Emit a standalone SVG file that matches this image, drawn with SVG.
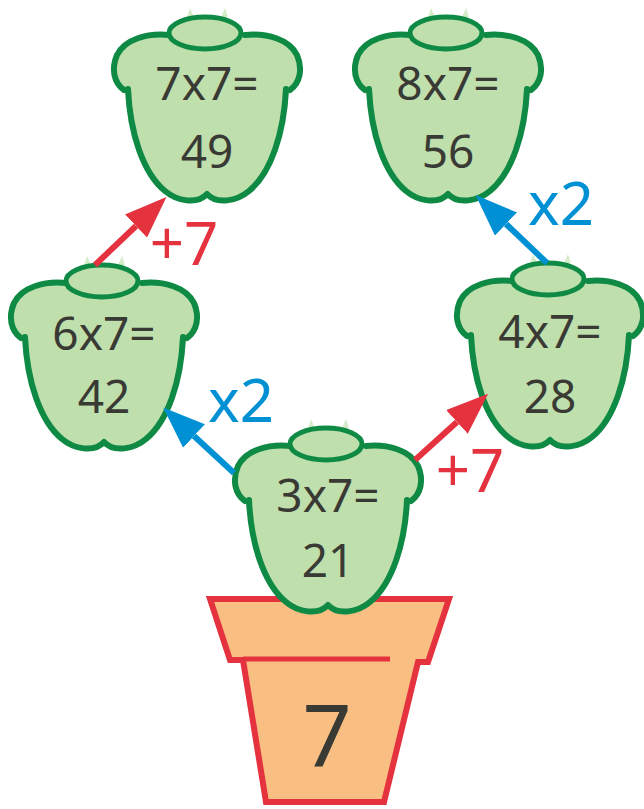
<svg xmlns="http://www.w3.org/2000/svg" xmlns:xlink="http://www.w3.org/1999/xlink" width="644" height="809" viewBox="0 0 644 809">
  <style>
    .body { fill: #bfdfad; stroke: none; }
    .edge { fill: none; stroke: #0f8a45; stroke-width: 6; stroke-linecap: round; stroke-linejoin: round; }
    .cap { fill: #bfdfad; stroke: #0f8a45; stroke-width: 5; }
    .tip { fill: #d6ecc9; }
    .fact { font-family: "Noto Sans", "DejaVu Sans", sans-serif; font-size: 46px; fill: #3a3a35; text-anchor: middle; }
    .pot { fill: #f9bf82; stroke: #e5323f; stroke-width: 6; stroke-linejoin: miter; }
    .rim { fill: none; stroke: #e5323f; stroke-width: 5; }
    .base { font-family: "Noto Sans", "DejaVu Sans", sans-serif; font-size: 86px; fill: #3a3a35; text-anchor: middle; }
    .red { stroke: #e5323f; stroke-width: 6; fill: none; }
    .blue { stroke: #0091d5; stroke-width: 6; fill: none; }
    .lab { font-family: "Noto Sans", "DejaVu Sans", sans-serif; font-size: 60px; text-anchor: middle; }
    .lab-red { fill: #e5323f; }
    .lab-blue { fill: #0091d5; }
  </style>
  <defs>
    <!-- pepper shape, origin at the centre of the stalk ring -->
    <g id="pepper">
      <polygon class="tip" points="-20,-16 -17,-25 -13,-16"/>
      <polygon class="tip" points="14,-16 18,-25 21,-16"/>
      <path class="body" d="M -38,2 C -60,0 -82,6 -90,22 C -96,36 -93,50 -82,57 C -78,100 -64,140 -42,158 C -30,168 -10,172 0,161 C 10,172 30,168 42,158 C 64,140 78,100 82,57 C 93,50 96,36 90,22 C 82,6 60,0 38,2 Z"/>
      <path class="edge" d="M -38,2 C -60,0 -82,6 -90,22 C -96,36 -93,50 -83,57"/>
      <path class="edge" d="M 38,2 C 60,0 82,6 90,22 C 96,36 93,50 83,57"/>
      <path class="edge" d="M -79,56 C -77,100 -64,140 -42,158 C -30,168 -10,172 0,161 C 10,172 30,168 42,158 C 64,140 77,100 79,56"/>
      <ellipse class="cap" cx="-2" cy="0" rx="36" ry="16"/>
    </g>
    <marker id="head-red" markerUnits="userSpaceOnUse" markerWidth="44" markerHeight="34" refX="0" refY="16" orient="auto">
      <path d="M 0,0 L 42,16 L 0,32 Z" fill="#e5323f"/>
    </marker>
    <marker id="head-blue" markerUnits="userSpaceOnUse" markerWidth="44" markerHeight="34" refX="0" refY="16" orient="auto">
      <path d="M 0,0 L 42,16 L 0,32 Z" fill="#0091d5"/>
    </marker>
  </defs>

  <!-- flower pot -->
  <g id="pot">
    <polygon class="pot" points="210,599 449,599 428,662 418,662 384,802 266,802 243,660 230,660"/>
    <line class="rim" x1="243" y1="659" x2="390" y2="659"/>
    <text class="base" x="327" y="767">7</text>
  </g>

  <g id="fact-3x7" transform="translate(328,444)">
    <use xlink:href="#pepper" href="#pepper"/>
    <text class="fact" x="0" y="68">3x7=</text>
    <text class="fact" x="0" y="133">21</text>
  </g>

  <g id="fact-6x7" transform="translate(104,281)">
    <use xlink:href="#pepper" href="#pepper"/>
    <text class="fact" x="0" y="69">6x7=</text>
    <text class="fact" x="0" y="132">42</text>
  </g>

  <g id="fact-4x7" transform="translate(550,279)">
    <use xlink:href="#pepper" href="#pepper"/>
    <text class="fact" x="0" y="69">4x7=</text>
    <text class="fact" x="0" y="134">28</text>
  </g>

  <g id="fact-7x7" transform="translate(207,33)">
    <use xlink:href="#pepper" href="#pepper"/>
    <text class="fact" x="0" y="67">7x7=</text>
    <text class="fact" x="0" y="135">49</text>
  </g>

  <g id="fact-8x7" transform="translate(448,33)">
    <use xlink:href="#pepper" href="#pepper"/>
    <text class="fact" x="0" y="67">8x7=</text>
    <text class="fact" x="0" y="135">56</text>
  </g>

  <!-- steps between facts -->
  <g id="connectors">
    <line class="red" x1="95" y1="265" x2="136" y2="226" marker-end="url(#head-red)"/>
    <text class="lab lab-red" x="184" y="265">+7</text>

    <line class="blue" x1="234" y1="473" x2="194" y2="436" marker-end="url(#head-blue)"/>
    <text class="lab lab-blue" x="241" y="422">x2</text>

    <line class="red" x1="415" y1="460" x2="457" y2="422" marker-end="url(#head-red)"/>
    <text class="lab lab-red" x="470" y="492">+7</text>

    <line class="blue" x1="547" y1="263" x2="506" y2="224" marker-end="url(#head-blue)"/>
    <text class="lab lab-blue" x="561" y="225">x2</text>
  </g>
</svg>
